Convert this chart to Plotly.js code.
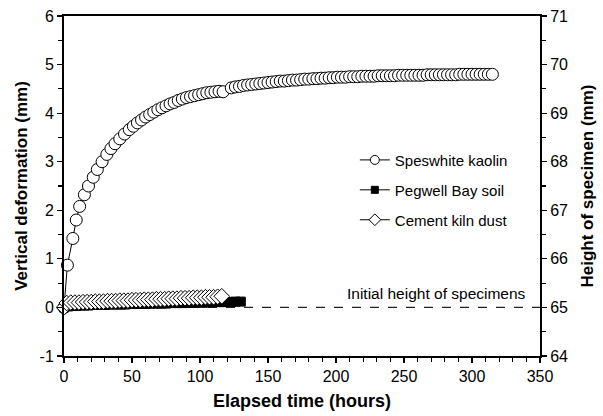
<!DOCTYPE html>
<html>
<head>
<meta charset="utf-8">
<script src="https://cdn.plot.ly/plotly-3.0.1.min.js"></script>
<style>html,body{margin:0;padding:0;background:#fff;}#chart{width:603px;height:416px;}</style>
</head>
<body>
<div id="chart"></div>
<script>
// Speswhite kaolin (elapsed time h, vertical deformation mm)
const kaolinT = [0, 2.5, 6.5, 9, 11.5, 15, 18, 21.5, 24.5, 28, 31.5, 34.5, 37.5, 41, 44.5, 48,
  51, 54, 57, 60, 63, 66, 69, 72, 75, 78, 81, 84, 87, 90, 93, 96, 99, 102, 105, 108, 111, 114, 117,
  123, 126, 129, 132, 135, 138, 141, 144, 147, 150, 153, 156, 159, 162, 165, 168, 171, 174, 177, 180,
  183, 186, 189, 192, 195, 198, 201, 204, 207, 210, 213, 216, 219, 222, 225, 228, 231, 234, 237, 240,
  243, 246, 249, 252, 255, 258, 261, 264, 267, 270, 273, 276, 279, 282, 285, 288, 291, 294, 297, 300,
  303, 306, 309, 312, 315];
const kaolinV = [0, 0.87, 1.42, 1.8, 2.08, 2.32, 2.5, 2.68, 2.84, 3.0, 3.15, 3.27, 3.37, 3.47, 3.57, 3.66,
  3.73, 3.80, 3.86, 3.92, 3.97, 4.02, 4.07, 4.11, 4.15, 4.19, 4.22, 4.26, 4.29, 4.32, 4.34, 4.36, 4.38, 4.40, 4.42, 4.43, 4.44, 4.45, 4.44,
  4.52, 4.54, 4.55, 4.57, 4.58, 4.59, 4.60, 4.61, 4.62, 4.63, 4.64, 4.65, 4.66, 4.66, 4.67, 4.68, 4.68, 4.69, 4.70, 4.70,
  4.71, 4.71, 4.72, 4.72, 4.73, 4.73, 4.74, 4.74, 4.74, 4.75, 4.75, 4.75, 4.76, 4.76, 4.76, 4.76, 4.77, 4.77, 4.77, 4.77,
  4.77, 4.78, 4.78, 4.78, 4.78, 4.78, 4.78, 4.78, 4.79, 4.79, 4.79, 4.79, 4.79, 4.79, 4.79, 4.79, 4.80, 4.80, 4.80, 4.80,
  4.80, 4.80, 4.80, 4.80, 4.80];

// Pegwell Bay soil
const pegwellT = [0, 3, 6, 9, 12, 15, 18, 21, 24, 27, 30, 33, 36, 39, 42, 45, 48, 51, 54, 57, 60,
  63, 66, 69, 72, 75, 78, 81, 84, 87, 90, 93, 96, 99, 102, 105, 108, 111, 114, 117, 120, 123, 126, 130];
const pegwellV = [0, 0.02, 0.03, 0.03, 0.04, 0.04, 0.04, 0.05, 0.05, 0.05, 0.05, 0.06, 0.06, 0.06, 0.06, 0.06, 0.07, 0.07, 0.07, 0.07, 0.07,
  0.08, 0.08, 0.08, 0.08, 0.08, 0.09, 0.09, 0.09, 0.09, 0.09, 0.10, 0.10, 0.10, 0.10, 0.10, 0.11, 0.11, 0.11, 0.11, 0.11, 0.11, 0.12, 0.12];

// Cement kiln dust
const cementT = [0, 2, 5, 8, 11, 14, 17, 20, 23, 26, 29, 32, 35, 38, 41, 44, 47, 50, 53, 56, 59,
  62, 65, 68, 71, 74, 77, 80, 83, 86, 89, 92, 95, 98, 101, 104, 107, 110, 113, 116];
const cementV = [0, 0.09, 0.10, 0.10, 0.10, 0.11, 0.11, 0.11, 0.12, 0.12, 0.12, 0.13, 0.13, 0.13, 0.14, 0.14, 0.14, 0.15, 0.15, 0.15, 0.16,
  0.16, 0.16, 0.17, 0.17, 0.17, 0.18, 0.18, 0.18, 0.19, 0.19, 0.19, 0.20, 0.20, 0.20, 0.21, 0.21, 0.21, 0.22, 0.23];

const seriesNames = ['Speswhite kaolin', 'Pegwell Bay soil', 'Cement kiln dust'];
const xTickVals = [0, 50, 100, 150, 200, 250, 300, 350];
const xTickText = ['0', '50', '100', '150', '200', '250', '300', '350'];
const yTickVals = [-1, 0, 1, 2, 3, 4, 5, 6];
const yTickText = ['-1', '0', '1', '2', '3', '4', '5', '6'];
const y2TickVals = [64, 65, 66, 67, 68, 69, 70, 71];
const y2TickText = ['64', '65', '66', '67', '68', '69', '70', '71'];
const xTitle = 'Elapsed time (hours)';
const yTitle = 'Vertical deformation (mm)';
const y2Title = 'Height of specimen (mm)';
const refLabel = 'Initial height of specimens';

const FONT = 'Liberation Sans, Arial, Helvetica, sans-serif';

const traces = [
  {x: kaolinT, y: kaolinV, type: 'scatter', mode: 'lines+markers', showlegend: false, cliponaxis: false,
   line: {color: '#000', width: 1},
   marker: {symbol: 'circle', size: 12, color: '#fff', line: {color: '#000', width: 1}}},
  {x: pegwellT, y: pegwellV, type: 'scatter', mode: 'lines+markers', showlegend: false, cliponaxis: false,
   line: {color: '#000', width: 1},
   marker: {symbol: 'square', size: 9, color: '#000', line: {color: '#000', width: 1}}},
  {x: cementT, y: cementV, type: 'scatter', mode: 'lines+markers', showlegend: false, cliponaxis: false,
   line: {color: '#000', width: 1},
   marker: {symbol: 'diamond', size: 12, color: '#fff', line: {color: '#000', width: 1}}},
  // legend entries
  {x: [null], y: [null], type: 'scatter', mode: 'lines+markers', name: seriesNames[0], legend: 'legend',
   line: {color: '#000', width: 1}, marker: {symbol: 'circle', size: 9, color: '#fff', line: {color: '#000', width: 1}}},
  {x: [null], y: [null], type: 'scatter', mode: 'lines+markers', name: seriesNames[1], legend: 'legend2',
   line: {color: '#000', width: 1}, marker: {symbol: 'square', size: 7, color: '#000', line: {color: '#000', width: 1}}},
  {x: [null], y: [null], type: 'scatter', mode: 'lines+markers', name: seriesNames[2], legend: 'legend3',
   line: {color: '#000', width: 1}, marker: {symbol: 'diamond', size: 9, color: '#fff', line: {color: '#000', width: 1}}},
  // right axis holder
  {x: [null], y: [null], type: 'scatter', mode: 'markers', yaxis: 'y2', showlegend: false, hoverinfo: 'skip'}
];

const legendBase = {xanchor: 'left', yanchor: 'middle', bgcolor: 'rgba(0,0,0,0)', borderwidth: 0,
  font: {family: FONT, size: 15, color: '#000'}};

function axisCommon(vals, text, minorStep, minorStart) {
  return {
    tickmode: 'array', tickvals: vals, ticktext: text,
    ticks: 'outside', ticklen: 5, tickwidth: 1.2, tickcolor: '#000',
    minor: {tickmode: 'linear', tick0: minorStart, dtick: minorStep, ticks: 'outside', ticklen: 4, tickwidth: 1.2, tickcolor: '#000', showgrid: false},
    showline: true, linecolor: '#000', linewidth: 2, showgrid: false, zeroline: false,
    tickfont: {family: FONT, size: 16, color: '#000'}
  };
}

const layout = {
  width: 603, height: 416,
  margin: {l: 64, r: 63, t: 16, b: 60},
  paper_bgcolor: '#fff', plot_bgcolor: '#fff',
  font: {family: FONT, size: 16, color: '#000'},
  xaxis: Object.assign(axisCommon(xTickVals, xTickText, 10, 0), {
    range: [0, 350], mirror: true,
    title: {text: xTitle, font: {family: FONT, size: 18, weight: 'bold'}, standoff: 10}
  }),
  yaxis: Object.assign(axisCommon(yTickVals, yTickText, 0.5, -1), {
    range: [-1, 6],
    title: {text: yTitle, font: {family: FONT, size: 17, weight: 'bold'}, standoff: 8}
  }),
  yaxis2: Object.assign(axisCommon(y2TickVals, y2TickText, 0.5, 64), {
    overlaying: 'y', side: 'right', anchor: 'x',
    range: [64, 71],
    title: {text: y2Title, font: {family: FONT, size: 17, weight: 'bold'}, standoff: 14}
  }),
  shapes: [
    {type: 'line', xref: 'x', yref: 'y', x0: 0, x1: 350, y0: 0, y1: 0, layer: 'below',
     line: {color: '#222', width: 1.3, dash: 'dash'}}
  ],
  annotations: [
    {text: refLabel, xref: 'x', yref: 'y', x: 341, y: 0.28, xanchor: 'right', yanchor: 'middle',
     showarrow: false, font: {family: FONT, size: 15.5, color: '#000'}}
  ],
  legend: Object.assign({x: 0.611, y: 0.576}, legendBase),
  legend2: Object.assign({x: 0.611, y: 0.488}, legendBase),
  legend3: Object.assign({x: 0.611, y: 0.4}, legendBase),
  showlegend: true
};

Plotly.newPlot('chart', traces, layout, {displayModeBar: false, staticPlot: true});
</script>
</body>
</html>
